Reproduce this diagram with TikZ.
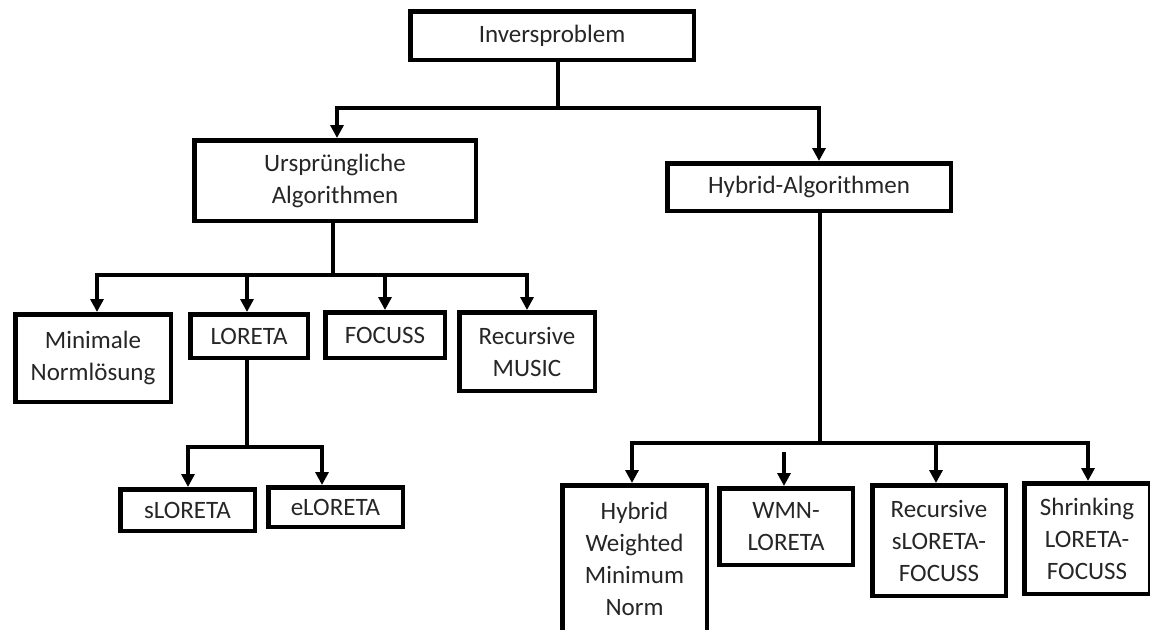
\documentclass[tikz,border=0pt]{standalone}
\usepackage{fontspec}
\setmainfont{Carlito}
\usetikzlibrary{arrows.meta}
\begin{document}
\begin{tikzpicture}[x=1pt,y=-1pt,
  box/.style={draw, line width=4.5pt, inner sep=0pt, align=center,
    font=\fontsize{25}{32}\selectfont, text=black!85},
  conn/.style={line width=4pt},
  arr/.style={line width=4pt, -{Triangle[length=13pt,width=13pt]}}]
\useasboundingbox (0,0) rectangle (1150,629);
\clip (0,0) rectangle (1150,629);
\fill[white] (0,0) rectangle (1150,629);
% boxes
\node[box, minimum width=283.5pt, minimum height=48.5pt] (inv) at (552,35.5) {Inversproblem};
\node[box, minimum width=281.5pt, minimum height=80.5pt] (urs) at (335,180.5) {Ursprüngliche\\Algorithmen};
\node[box, minimum width=283.5pt, minimum height=47.5pt] (hyb) at (809,187) {Hybrid-Algorithmen};
\node[box, minimum width=155.5pt, minimum height=87.5pt] (min) at (93,358) {Minimale\\Normlösung};
\node[box, minimum width=117.5pt, minimum height=43.5pt] (lor) at (249,336) {LORETA};
\node[box, minimum width=119.5pt, minimum height=45.5pt] (foc) at (385,335) {FOCUSS};
\node[box, minimum width=135.5pt, minimum height=78.5pt] (rmu) at (527,351.5) {Recursive\\MUSIC};
\node[box, minimum width=134.5pt, minimum height=41.5pt] (slo) at (187.5,510) {sLORETA};
\node[box, minimum width=134.5pt, minimum height=39.5pt] (elo) at (335.5,507) {eLORETA};
\node[box, minimum width=144.5pt, minimum height=147.5pt] (hwm) at (634.5,559) {Hybrid\\Weighted\\Minimum\\Norm};
\node[box, minimum width=133.5pt, minimum height=76.5pt] (wmn) at (786,526.5) {WMN-\\LORETA};
\node[box, minimum width=133.5pt, minimum height=110.5pt] (rsl) at (939,540.5) {Recursive\\sLORETA-\\FOCUSS};
\node[box, minimum width=125.5pt, minimum height=110.5pt] (shr) at (1087,538.5) {Shrinking\\LORETA-\\FOCUSS};
% junctions
\coordinate (j1) at (558,108);
\coordinate (j2) at (333,275);
\coordinate (j3) at (247,447);
\coordinate (j4) at (820,443);
\coordinate (w0) at (784,452);
% level 1
\draw[conn] ([xshift=6pt]inv.south) -- (j1);
\draw[arr] (j1) -| ([xshift=2pt]urs.north);
\draw[arr] (j1) -| ([xshift=10pt]hyb.north);
% level 2 left
\draw[conn] ([xshift=-2pt]urs.south) -- (j2);
\draw[arr] (j2) -| ([xshift=4pt]min.north);
\draw[arr] (j2) -| ([xshift=-2pt]lor.north);
\draw[arr] (j2) -| (foc.north);
\draw[arr] (j2) -| (rmu.north);
% loreta
\draw[conn] ([xshift=-2pt]lor.south) -- (j3);
\draw[arr] (j3) -| ([xshift=0.5pt]slo.north);
\draw[arr] (j3) -| ([xshift=-13.5pt]elo.north);
% hybrid
\draw[conn] ([xshift=11pt]hyb.south) -- (j4);
\draw[arr] (j4) -| ([xshift=-2.5pt]hwm.north);
\draw[arr] (w0) -- (w0 |- wmn.north);
\draw[conn] (j4) -- (w0 |- j4);
\draw[arr] (j4) -| ([xshift=-3pt]rsl.north);
\draw[arr] (j4) -| ([xshift=1pt]shr.north);
\end{tikzpicture}
\end{document}
